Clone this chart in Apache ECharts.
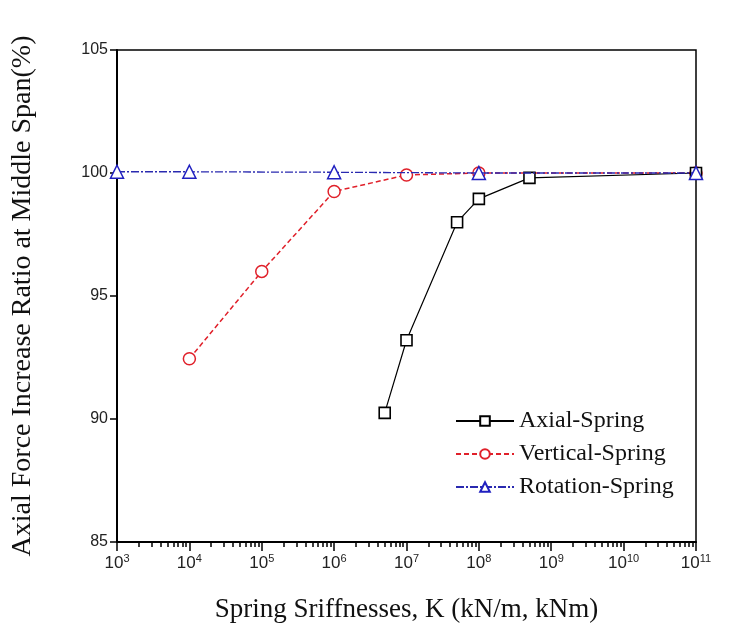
<!DOCTYPE html>
<html><head><meta charset="utf-8">
<script src="https://cdn.jsdelivr.net/npm/echarts@6/dist/echarts.min.js"></script>
<style>html,body{margin:0;padding:0;background:#fff}#c{width:734px;height:640px}</style>
</head><body><div id="c"></div>
<script>
// Data
const axialK = [5e6, 1e7, 5e7, 1e8, 5e8, 1e11];
const axialV = [90.25, 93.2, 98.0, 98.95, 99.8, 100.0];
const vertK = [1e4, 1e5, 1e6, 1e7, 1e8, 1e11];
const vertV = [92.45, 96.0, 99.25, 99.92, 100.0, 100.0];
const rotK = [1e3, 1e4, 1e6, 1e8, 1e11];
const rotV = [100.05, 100.05, 100.03, 100.0, 100.0];
const yTicks = [85, 90, 95, 100, 105];
const xExponents = [3, 4, 5, 6, 7, 8, 9, 10, 11];
const seriesNames = ['Axial-Spring', 'Vertical-Spring', 'Rotation-Spring'];

// minor tick positions (in decades) for the decorative minor-tick axis
const minorTicks = [];
for (let e = 3; e < 11; e++) for (let k = 2; k <= 9; k++) minorTicks.push(e + Math.log10(k));

const pair = (ks, vs) => ks.map((k, i) => [k, vs[i]]);
const serif = '"Liberation Serif", "Times New Roman", serif';
const sans = '"Liberation Sans", Arial, sans-serif';

const chart = echarts.init(document.getElementById('c'), null, {renderer: 'canvas'});
chart.setOption({
  animation: false,
  backgroundColor: '#fff',
  grid: {left: 117, right: 38, top: 50, bottom: 98, show: true, borderColor: '#000', borderWidth: 1.5, backgroundColor: 'transparent'},
  legend: {
    orient: 'vertical', left: 450, top: 404, itemGap: 9, itemWidth: 58, itemHeight: 12,
    textStyle: {fontFamily: serif, fontSize: 24, color: '#111'},
    data: seriesNames
  },
  xAxis: [{
    type: 'log', logBase: 10, min: 1e3, max: 1e11, interval: 1,
    name: 'Spring Sriffnesses, K (kN/m, kNm)', nameLocation: 'middle', nameGap: 54,
    nameTextStyle: {fontFamily: serif, fontSize: 27, color: '#111'},
    axisLine: {lineStyle: {color: '#000', width: 2}},
    axisTick: {inside: false, length: 9, lineStyle: {color: '#000', width: 1.5}},
    splitLine: {show: false},
    axisLabel: {
      margin: 11,
      formatter: v => '{b|10}{s|' + Math.round(Math.log10(v)) + '}',
      rich: {b: {fontFamily: sans, fontSize: 17, color: '#222'}, s: {fontFamily: sans, fontSize: 11, color: '#222', verticalAlign: 'top', padding: [0, 0, 9, 0]}}
    }
  }, {
    type: 'value', min: 3, max: 11, position: 'bottom',
    axisLine: {show: false}, axisLabel: {show: false}, splitLine: {show: false},
    axisTick: {show: true, length: 5, customValues: minorTicks, lineStyle: {color: '#000', width: 1.5}}
  }],
  yAxis: {
    type: 'value', min: 85, max: 105, interval: 5,
    name: 'Axial Force Increase Ratio at Middle Span(%)', nameLocation: 'middle', nameGap: 80,
    nameTextStyle: {fontFamily: serif, fontSize: 28, color: '#111'},
    axisLine: {show: true, lineStyle: {color: '#000', width: 2}},
    axisTick: {show: true, length: 7, lineStyle: {color: '#000', width: 1.5}},
    splitLine: {show: false},
    axisLabel: {fontFamily: sans, fontSize: 16, color: '#222', margin: 9, customValues: yTicks}
  },
  series: [{
    name: seriesNames[0], type: 'line', data: pair(axialK, axialV),
    symbol: 'rect', symbolSize: 11, showAllSymbol: true,
    lineStyle: {color: '#000', width: 1.2, type: 'solid'},
    itemStyle: {color: '#fff', borderColor: '#000', borderWidth: 1.6}, z: 3
  }, {
    name: seriesNames[1], type: 'line', data: pair(vertK, vertV),
    symbol: 'circle', symbolSize: 12,
    lineStyle: {color: '#e0202a', width: 1.5, type: [5, 3]},
    itemStyle: {color: '#fff', borderColor: '#e0202a', borderWidth: 1.5}, z: 2
  }, {
    name: seriesNames[2], type: 'line', data: pair(rotK, rotV),
    symbol: 'triangle', symbolSize: 13,
    lineStyle: {color: '#2a2ab0', width: 1.3, type: [8, 2, 2, 2]},
    itemStyle: {color: '#fff', borderColor: '#2020c0', borderWidth: 1.5}, z: 4
  }]
});
</script></body></html>
